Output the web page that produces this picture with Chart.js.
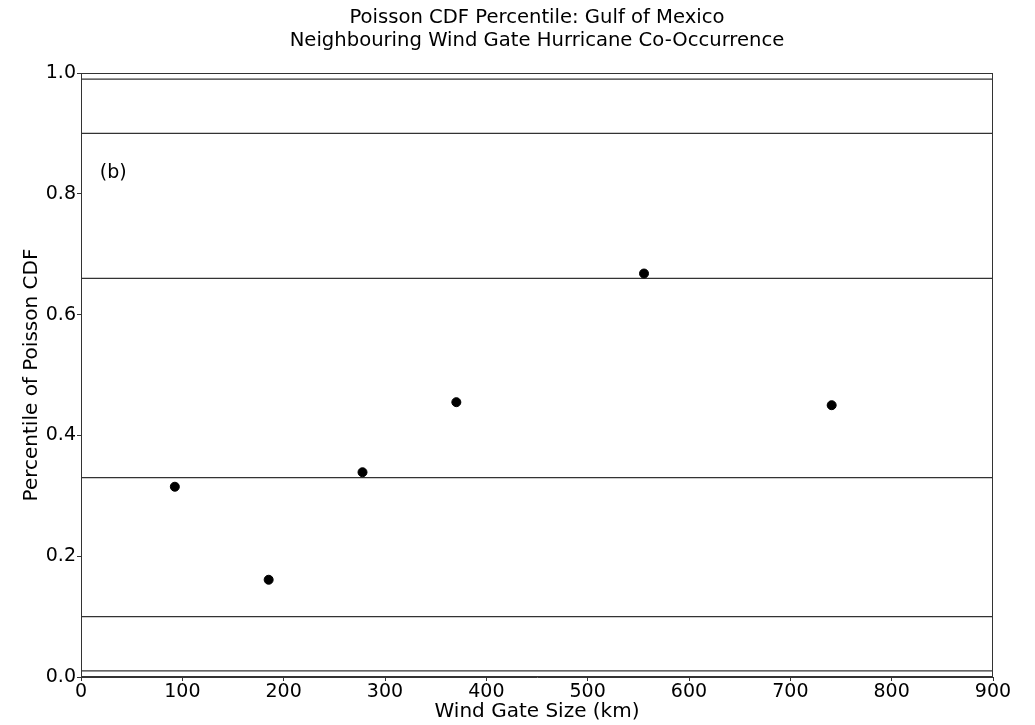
<!DOCTYPE html>
<html>
<head>
<meta charset="utf-8">
<script src="https://cdn.jsdelivr.net/npm/chart.js@4"></script>
<style>
  body { margin: 0; background: #fff; }
  #wrap { width: 1035px; height: 725px; }
</style>
</head>
<body>
<div id="wrap"><canvas id="grafico"></canvas></div>
<script>
// data
const gateSizes = [92.6, 185.2, 277.8, 370.4, 555.6, 740.8];
const percentiles = [0.315, 0.161, 0.339, 0.455, 0.668, 0.450];
const refLevels = [0.01, 0.1, 0.33, 0.66, 0.9, 0.99];
const titleLines = ["Poisson CDF Percentile: Gulf of Mexico", "Neighbouring Wind Gate Hurricane Co-Occurrence"];
const panelLabel = "(b)";

const FONT = "'DejaVu Sans', sans-serif";

const refSets = refLevels.map(v => ({
  type: 'line',
  data: [{ x: 0, y: v }, { x: 900, y: v }],
  borderColor: '#333',
  borderWidth: 1.2,
  pointRadius: 0,
  order: 2
}));

const extras = {
  id: 'extras',
  afterDraw(chart) {
    const { ctx, chartArea: a, scales } = chart;
    ctx.save();
    ctx.strokeStyle = '#333';
    ctx.lineWidth = 1;
    ctx.strokeRect(a.left + 0.5, a.top + 0.5, a.right - a.left - 1, a.bottom - a.top - 1);
    ctx.fillStyle = '#000';
    ctx.font = "19.6px " + FONT;
    ctx.textAlign = 'center';
    ctx.textBaseline = 'middle';
    const cx = (a.left + a.right) / 2;
    ctx.fillText(titleLines[0], cx, 18);
    ctx.fillText(titleLines[1], cx, 41);
    ctx.font = "19px " + FONT;
    ctx.textAlign = 'left';
    ctx.fillText(panelLabel, scales.x.getPixelForValue(18.5), scales.y.getPixelForValue(0.834));
    ctx.restore();
  }
};

new Chart(document.getElementById("grafico").getContext("2d"), {
  type: 'scatter',
  data: {
    datasets: [{
      data: gateSizes.map((x, i) => ({ x: x, y: percentiles[i] })),
      backgroundColor: '#000',
      borderColor: '#000',
      pointRadius: 4.5,
      order: 1
    }, ...refSets]
  },
  options: {
    responsive: true,
    maintainAspectRatio: false,
    animation: false,
    layout: { padding: { top: 73, right: 42, left: 0, bottom: 0 } },
    plugins: {
      legend: { display: false },
      tooltip: { enabled: false }
    },
    scales: {
      x: {
        type: 'linear',
        min: 0, max: 900,
        afterFit: s => { s.height = 48; },
        ticks: { stepSize: 100, color: '#000', font: { family: FONT, size: 19 }, padding: 0, maxRotation: 0 },
        grid: { drawOnChartArea: false, drawTicks: true, tickLength: 4, color: '#333' },
        border: { color: '#333' },
        title: { display: true, text: 'Wind Gate Size (km)', color: '#000', font: { family: FONT, size: 20 }, padding: { top: 0, bottom: 1 } }
      },
      y: {
        min: 0, max: 1,
        afterFit: s => { s.width = 81; },
        ticks: { stepSize: 0.2, color: '#000', font: { family: FONT, size: 19 }, padding: 1, callback: v => v.toFixed(1) },
        grid: { drawOnChartArea: false, drawTicks: true, tickLength: 4, color: '#333' },
        border: { color: '#333' },
        title: { display: true, text: 'Percentile of Poisson CDF', color: '#000', font: { family: FONT, size: 20 }, padding: { top: 20, bottom: 0 } }
      }
    }
  },
  plugins: [extras]
});
</script>
</body>
</html>
